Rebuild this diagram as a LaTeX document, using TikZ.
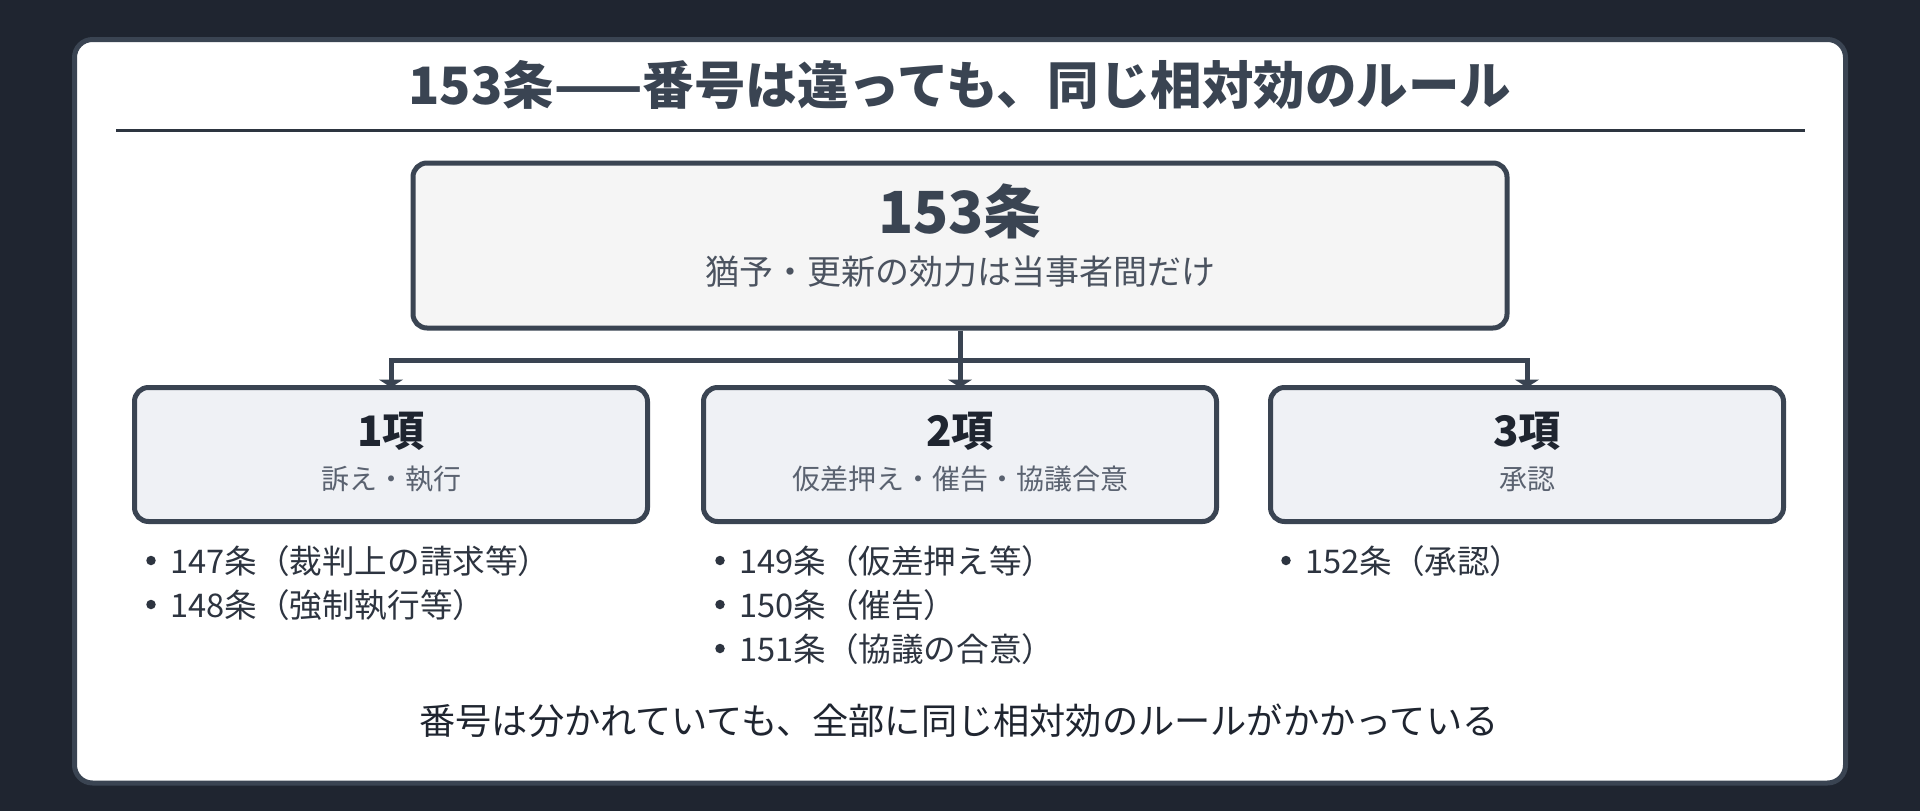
\documentclass[tikz,border=0pt]{standalone}
\usepackage{fontspec}
\setmainfont{Noto Sans CJK JP}
\usetikzlibrary{arrows.meta,calc}
\definecolor{bgc}{HTML}{1F2530}
\definecolor{edgec}{HTML}{3A4452}
\definecolor{rulec}{HTML}{2D3540}
\definecolor{titlec}{HTML}{3A4452}
\definecolor{topfill}{HTML}{F5F5F5}
\definecolor{childfill}{HTML}{EFF1F5}
\definecolor{darkc}{HTML}{1F2530}
\definecolor{subc}{HTML}{4B5360}
\definecolor{subbc}{HTML}{5A6270}
\definecolor{itemc}{HTML}{2D3440}
\pgfdeclarelayer{bglayer}
\pgfdeclarelayer{connlayer}
\pgfsetlayers{bglayer,connlayer,main}
\begin{document}
\begin{tikzpicture}[x=1pt,y=-1pt,
  box/.style={draw=edgec, line width=5pt, rounded corners=14pt, inner sep=0pt},
  topbox/.style={box, fill=topfill, minimum width=1094pt, minimum height=165pt},
  childbox/.style={box, fill=childfill, minimum width=513pt, minimum height=134pt},
  conn/.style={draw=edgec, line width=5pt},
  tipped/.style={-{Triangle[width=24pt,length=8pt]}},
  titletext/.style={anchor=base, inner sep=0pt, text=titlec, font=\bfseries\fontsize{51.5}{60}\selectfont},
  artnumtext/.style={anchor=base, inner sep=0pt, text=titlec, font=\bfseries\fontsize{58}{70}\selectfont},
  artsubtext/.style={anchor=base, inner sep=0pt, text=subc, font=\fontsize{34}{40}\selectfont},
  headtext/.style={anchor=base, inner sep=0pt, text=darkc, font=\bfseries\fontsize{42}{50}\selectfont},
  headsubtext/.style={anchor=base, inner sep=0pt, text=subbc, font=\fontsize{28}{34}\selectfont},
  itemtext/.style={anchor=base west, inner sep=0pt, text=itemc, font=\fontsize{32.6}{38}\selectfont},
  dot/.style={circle, fill=itemc, inner sep=0pt, minimum size=9.5pt},
  foottext/.style={anchor=base, inner sep=0pt, text=darkc, font=\fontsize{36.2}{44}\selectfont}
]
\useasboundingbox (0,0) rectangle (1920,811);
\begin{pgfonlayer}{bglayer}
  \fill[bgc] (0,0) rectangle (1920,811);
  \draw[draw=edgec, fill=white, line width=5pt, rounded corners=18pt] (74.5,39.5) rectangle (1845.5,783);
\end{pgfonlayer}

% title
\node[titletext] (title) at (960,104) {153条——番号は違っても、同じ相対効のルール};
\draw[rulec, line width=3pt] (116,130) -- (1805,130);

% top box
\node[topbox] (art) at (960,245.5) {};
\node[artnumtext] (artnum) at (960,233) {153条};
\node[artsubtext] (artsub) at (960,284) {猶予・更新の効力は当事者間だけ};

% child boxes
\node[childbox] (p1) at (391,454.5) {};
\node[childbox] (p2) at (960,454.5) {};
\node[childbox] (p3) at (1527,454.5) {};
\node[headtext] (h1) at (391,446) {1項};
\node[headtext] (h2) at (960,446) {2項};
\node[headtext] (h3) at (1527,446) {3項};
\node[headsubtext] (s1) at (391,489) {訴え・執行};
\node[headsubtext] (s2) at (960,489) {仮差押え・催告・協議合意};
\node[headsubtext] (s3) at (1527,489) {承認};

% connectors
\begin{pgfonlayer}{connlayer}
  \draw[conn] (art.south) -- ++(0,29.5) coordinate (junction);
  \draw[conn, tipped] (junction) -| ($(p1.north)+(0,2.5)$);
  \draw[conn, tipped] (junction) -| ($(p3.north)+(0,2.5)$);
  \draw[conn, tipped] (art.south) -- ($(p2.north)+(0,2.5)$);
\end{pgfonlayer}

% items
\node[dot] (d11) at (151,560.5) {};
\node[itemtext] (i11) at (170,573) {147条（裁判上の請求等）};
\node[dot] (d12) at (151,604.5) {};
\node[itemtext] (i12) at (170,617) {148条（強制執行等）};

\node[dot] (d21) at (720,560.5) {};
\node[itemtext] (i21) at (739,573) {149条（仮差押え等）};
\node[dot] (d22) at (720,604.5) {};
\node[itemtext] (i22) at (739,617) {150条（催告）};
\node[dot] (d23) at (720,648.5) {};
\node[itemtext] (i23) at (739,661) {151条（協議の合意）};

\node[dot] (d31) at (1286,560.5) {};
\node[itemtext] (i31) at (1305,573) {152条（承認）};

% footer
\node[foottext] (foot) at (959,734) {番号は分かれていても、全部に同じ相対効のルールがかかっている};
\end{tikzpicture}
\end{document}
